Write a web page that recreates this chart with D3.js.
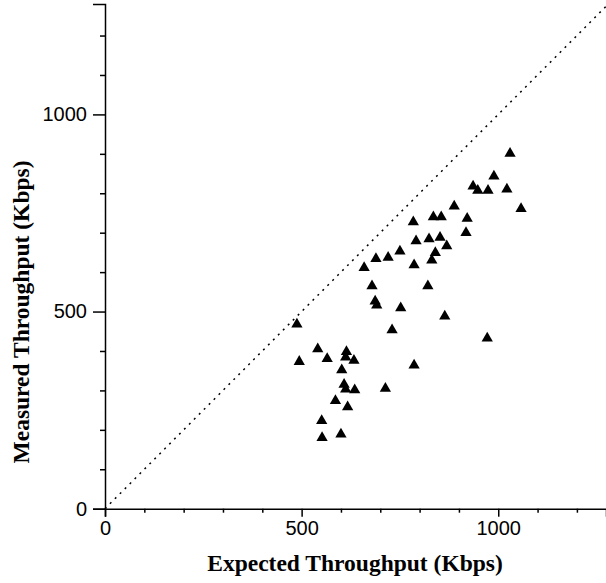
<!DOCTYPE html>
<html><head><meta charset="utf-8">
<script src="https://cdn.jsdelivr.net/npm/d3@7"></script>
<style>body{margin:0;background:#fff;} svg{display:block;}</style>
</head><body>
<svg id="c" width="606" height="583"></svg>
<script>
const expected = [488,541,494,565,614,612,633,602,608,612,635,713,586,617,551,552,600,
  691,687,752,730,659,679,689,720,750,786,
  888,784,835,855,921,1058,918,791,824,852,869,840,831,786,821,864,972,
  1030,989,936,948,974,1022];
const measured = [468,405,373,380,398,384,376,352,315,303,301,305,274,258,223,180,189,
  516,526,509,453,611,565,634,637,653,364,
  767,727,740,740,736,761,700,679,684,688,666,649,630,618,565,488,432,
  901,843,818,807,807,810];
const majorTicks = [0,500,1000];
const minorTicks = [100,200,300,400,600,700,800,900,1100,1200];
const xTitle = "Expected Throughput (Kbps)";
const yTitle = "Measured Throughput (Kbps)";

const svg = d3.select("#c");
const x = d3.scaleLinear().domain([0,1274]).range([105,606]);
const y = d3.scaleLinear().domain([0,1280]).range([508.7,4]);

// diagonal y = x
svg.append("line")
  .attr("x1", x(0)).attr("y1", y(0)).attr("x2", x(1274)).attr("y2", y(1274))
  .attr("stroke","#000").attr("stroke-width",1.5).attr("stroke-dasharray","2,5");

// axes
const fmt = d3.format("d");
const xAxis = d3.axisBottom(x).tickValues(majorTicks).tickSize(8).tickPadding(4).tickFormat(fmt);
const xMinor = d3.axisBottom(x).tickValues(minorTicks).tickSize(4).tickFormat("");
const yAxis = d3.axisLeft(y).tickValues(majorTicks).tickSize(12).tickPadding(6).tickFormat(fmt);
const yMinor = d3.axisLeft(y).tickValues(minorTicks).tickSize(5).tickFormat("");

function style(g){
  g.select(".domain").attr("stroke","#000").attr("stroke-width",1.5);
  g.selectAll(".tick line").attr("stroke","#000").attr("stroke-width",1.5);
  g.selectAll("text").attr("font-family","'Liberation Sans', Arial, sans-serif").attr("font-size",20).attr("fill","#000");
}
svg.append("g").attr("transform",`translate(0,${y(0)})`).call(xAxis).call(style);
svg.append("g").attr("transform",`translate(0,${y(0)})`).call(xMinor).call(style).select(".domain").remove();
svg.append("g").attr("transform",`translate(${x(0)},0)`).call(yAxis).call(style);
svg.append("g").attr("transform",`translate(${x(0)},0)`).call(yMinor).call(style).select(".domain").remove();

// points
const sym = d3.symbol().type(d3.symbolTriangle).size(55);
svg.append("g").selectAll("path").data(expected.map((e,i)=>[e,measured[i]])).join("path")
  .attr("d", sym).attr("transform", d=>`translate(${x(d[0])},${y(d[1])})`).attr("fill","#000");

// titles
svg.append("text").attr("x",355).attr("y",571).attr("text-anchor","middle")
  .attr("font-family","'Liberation Serif', 'Times New Roman', serif").attr("font-weight","bold").attr("font-size",23.5)
  .text(xTitle);
svg.append("text").attr("transform","translate(29,312) rotate(-90)").attr("text-anchor","middle")
  .attr("font-family","'Liberation Serif', 'Times New Roman', serif").attr("font-weight","bold").attr("font-size",23.5)
  .text(yTitle);
</script>
</body></html>
